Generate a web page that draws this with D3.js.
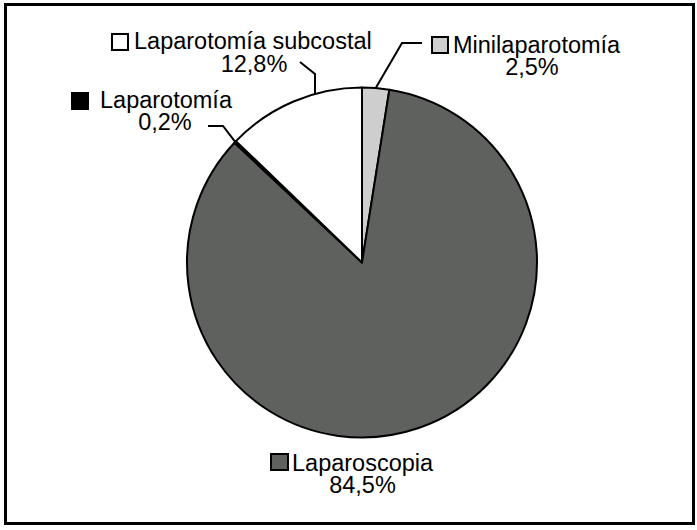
<!DOCTYPE html>
<html>
<head>
<meta charset="utf-8">
<script src="https://cdn.jsdelivr.net/npm/d3@7"></script>
<style>
  html, body { margin: 0; padding: 0; background: #fff; }
  svg { display: block; }
  text { font-family: "Liberation Sans", Arial, Helvetica, sans-serif; font-size: 23.5px; fill: #000; }
</style>
</head>
<body>
<svg id="chart" width="697" height="530"></svg>
<script>
// ---- data ----
const categories = ["Minilaparotomía", "Laparoscopia", "Laparotomía", "Laparotomía subcostal"];
const values = [2.5, 84.5, 0.2, 12.8];
const percentLabels = ["2,5%", "84,5%", "0,2%", "12,8%"];
const sliceColors = ["#cecece", "#5f615e", "#000000", "#ffffff"];

// ---- layout ----
const W = 697, H = 530;
const cx = 362, cy = 262.5, R = 175;

const svg = d3.select("#chart");

// outer frame
svg.append("rect")
  .attr("x", 5.5).attr("y", 4.5)
  .attr("width", 688).attr("height", 519)
  .attr("fill", "#fff").attr("stroke", "#000").attr("stroke-width", 3);

const pie = d3.pie().sort(null).value(d => d)
  .startAngle(0).endAngle(2 * Math.PI);
const arcs = pie(values);
const arc = d3.arc().innerRadius(0).outerRadius(R);

const g = svg.append("g").attr("transform", `translate(${cx},${cy})`);
g.selectAll("path.slice")
  .data(arcs)
  .join("path")
  .attr("class", "slice")
  .attr("d", arc)
  .attr("fill", (d, i) => sliceColors[i])
  .attr("stroke", "#000")
  .attr("stroke-width", 2)
  .attr("stroke-linejoin", "round");

// point on the circle at a given angle (clockwise from 12 o'clock)
function onCircle(a) { return [cx + R * Math.sin(a), cy - R * Math.cos(a)]; }
function midPoint(d) { return onCircle((d.startAngle + d.endAngle) / 2); }
function circleAtX(x) { return [x, cy - Math.sqrt(R * R - (x - cx) * (x - cx))]; }

// label layout per category (key box, name start/baseline, percent centre/baseline)
const labelLayout = [
  { box: [432, 37, 16, 16], nameX: 453, nameY: 53, pctX: 532, pctY: 75,
    leader: d => [midPoint(d), [402, 43], [422, 43]] },
  { box: [271, 454, 17, 16], nameX: 292, nameY: 471, pctX: 362.5, pctY: 493,
    leader: null },
  { box: [72, 93, 16, 16], nameX: 100, nameY: 108, pctX: 165, pctY: 130,
    leader: d => [midPoint(d), [223, 126], [208, 126]] },
  { box: [112, 34, 16, 16], nameX: 134, nameY: 49, pctX: 254, pctY: 72,
    leader: d => [circleAtX(315), [315, 74], [300, 62]] }
];

const line = d3.line();
const labels = svg.append("g");
arcs.forEach((d, i) => {
  const L = labelLayout[i];
  if (L.leader) {
    labels.append("path")
      .attr("d", line(L.leader(d)))
      .attr("fill", "none").attr("stroke", "#000").attr("stroke-width", 2);
  }
  labels.append("rect")
    .attr("x", L.box[0]).attr("y", L.box[1])
    .attr("width", L.box[2]).attr("height", L.box[3])
    .attr("fill", sliceColors[i]).attr("stroke", "#000").attr("stroke-width", 2);
  const t = labels.append("text");
  t.append("tspan")
    .attr("x", L.nameX).attr("y", L.nameY)
    .attr("text-anchor", "start")
    .text(categories[i]);
  t.append("tspan")
    .attr("x", L.pctX).attr("y", L.pctY)
    .attr("text-anchor", "middle")
    .text(percentLabels[i]);
});
</script>
</body>
</html>
